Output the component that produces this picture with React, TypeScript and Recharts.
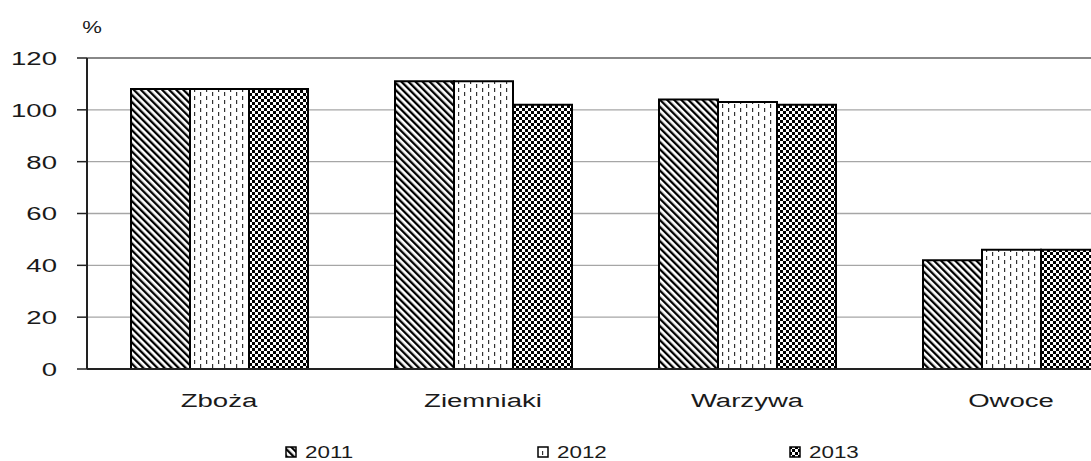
import { Bar, BarChart, CartesianGrid, Legend, ReferenceLine, XAxis, YAxis } from "recharts";

const categories = ["Zboża", "Ziemniaki", "Warzywa", "Owoce"];
const s2011 = [108, 111, 104, 42];
const s2012 = [108, 111, 103, 46];
const s2013 = [108, 102, 102, 46];
const yTicks = [0, 20, 40, 60, 80, 100, 120];
const years = ["2011", "2012", "2013"];

const data = categories.map((name, i) => ({ name, y2011: s2011[i], y2012: s2012[i], y2013: s2013[i] }));

const FONT = "'Liberation Sans', Arial, sans-serif";
const SX = 1.45;

const XTick = ({ x, y, payload }: any) => (
  <g transform={`translate(${x},${y})`}>
    <text transform={`scale(${SX},1)`} textAnchor="middle" y={30} fontSize={19} fontFamily={FONT} fill="#1a1a1a">{payload.value}</text>
  </g>
);

const YTick = ({ x, y, payload }: any) => (
  <g transform={`translate(${x - 18},${y})`}>
    <text transform={`scale(${SX},1)`} textAnchor="end" dy="0.36em" fontSize={19} fontFamily={FONT} fill="#1a1a1a">{payload.value}</text>
  </g>
);

const fills = ["url(#p2011)", "url(#p2012)", "url(#p2013)"];
const legendX = [286, 538, 790];

const LegendBox = () => (
  <svg width={1091} height={42} style={{ display: "block" }}>
    {years.map((yr, i) => (
      <g key={yr}>
        <rect x={legendX[i]} y={28} width={10} height={10} fill={fills[i]} stroke="#000" strokeWidth={1.5} />
        <g transform={`translate(${legendX[i] + 19},39)`}>
          <text transform={`scale(1.4,1)`} fontSize={16} fontFamily={FONT} fill="#1a1a1a">{yr}</text>
        </g>
      </g>
    ))}
  </svg>
);

export default function App() {
  return (
    <div style={{ position: "absolute", left: 0, top: 0, width: 1091, height: 461, overflow: "hidden", background: "#fff" }}>
      <BarChart width={1150} height={461} data={data} margin={{ top: 58, right: 7, left: 0, bottom: 0 }} barGap={0}>
        <defs>
          <pattern id="p2011" patternUnits="userSpaceOnUse" width={5} height={5} patternTransform="rotate(-45)">
            <rect width={5} height={5} fill="#fff" />
            <rect width={2.3} height={5} fill="#000" />
          </pattern>
          <pattern id="p2012" patternUnits="userSpaceOnUse" width={12} height={8}>
            <rect width={12} height={8} fill="#fff" />
            <rect x={2} y={0} width={1.2} height={4} fill="#333" />
            <rect x={8} y={4} width={1.2} height={4} fill="#333" />
          </pattern>
          <pattern id="p2013" patternUnits="userSpaceOnUse" width={6} height={6}>
            <rect width={6} height={6} fill="#fff" />
            <rect x={0} y={0} width={3} height={3} fill="#000" />
            <rect x={3} y={3} width={3} height={3} fill="#000" />
          </pattern>
        </defs>
        <CartesianGrid vertical={false} stroke="#a6a6a6" strokeWidth={1.3} />
        <ReferenceLine y={120} stroke="#777" strokeWidth={1.5} />
        <XAxis dataKey="name" tick={<XTick />} tickLine={false} axisLine={{ stroke: "#222", strokeWidth: 2 }} height={50} interval={0} />
        <YAxis
          domain={[0, 120]}
          ticks={yTicks}
          width={87}
          tickSize={10}
          tick={<YTick />}
          tickLine={{ stroke: "#222", strokeWidth: 1.5 }}
          axisLine={{ stroke: "#222", strokeWidth: 2 }}
          label={{
            content: () => (
              <g transform="translate(92,33)">
                <text transform={`scale(1.3,1)`} textAnchor="middle" fontSize={17} fontFamily={FONT} fill="#1a1a1a">%</text>
              </g>
            ),
          }}
        />
        <Legend verticalAlign="bottom" height={42} content={<LegendBox />} wrapperStyle={{ left: 0, width: 1091 }} />
        <Bar dataKey="y2011" name="2011" barSize={59} fill="url(#p2011)" stroke="#000" strokeWidth={2} isAnimationActive={false} />
        <Bar dataKey="y2012" name="2012" barSize={59} fill="url(#p2012)" stroke="#000" strokeWidth={2} isAnimationActive={false} />
        <Bar dataKey="y2013" name="2013" barSize={59} fill="url(#p2013)" stroke="#000" strokeWidth={2} isAnimationActive={false} />
      </BarChart>
    </div>
  );
}
